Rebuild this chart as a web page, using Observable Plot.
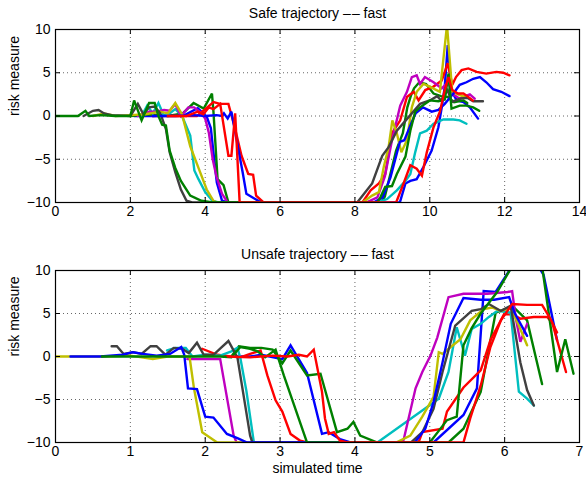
<!DOCTYPE html>
<html><head><meta charset="utf-8">
<script src="https://cdn.jsdelivr.net/npm/d3@7"></script>
<script src="https://cdn.jsdelivr.net/npm/@observablehq/plot@0.6"></script>
<style>body{margin:0;background:#fff;} #chart svg{display:block;}</style>
</head><body><div id="chart"></div>
<script>
// ---------- tick labels / axes ----------
const safeTitle = "Safe trajectory –\u200A– fast";
const unsafeTitle = "Unsafe trajectory –\u200A– fast";
const yLabel = "risk measure";
const xLabel = "simulated time";
const safeXTicks = [0, 2, 4, 6, 8, 10, 12, 14];
const unsafeXTicks = [0, 1, 2, 3, 4, 5, 6, 7];
const yTicks = [-10, -5, 0, 5, 10];

// ---------- series colours (MATLAB colour order) ----------
const colBlue = "#0000ff", colGreen = "#008000", colRed = "#ff0000", colCyan = "#00bfbf",
      colMagenta = "#bf00bf", colYellow = "#bfbf00", colGray = "#404040";

// ---------- Safe trajectory series: [time, risk] ----------
const safeBlue1 = [[2.1,0],[2.6,0],[3.0,0.1],[3.4,0],[3.8,0.9],[3.95,0.3],[4.05,-0.2],[4.15,-1.4],[4.22,-4.2],[4.31,-7.7],[4.45,-9.8],[4.6,-10],[9.2,-10],[9.35,-7.8],[9.48,-7.5],[9.65,-7.3],[9.83,-5.9],[10.05,-4.0],[10.23,-1.3],[10.32,1.0],[10.4,3.4],[10.48,8.2],[10.57,3.0],[10.72,1.8],[10.9,1.6],[11.07,1.0],[11.29,-0.3]];
const safeGreen1 = [[2.0,0],[2.5,0.2],[3.0,0],[3.4,0.3],[3.69,1.5],[3.96,0.85],[4.18,2.6],[4.22,0.5],[4.27,-3],[4.33,-7.3],[4.49,-8],[4.62,-10],[8.7,-10],[8.8,-9.3],[9.1,-4.0],[9.28,-2.0],[9.4,1.0],[9.5,2.4],[9.58,3.2],[9.72,3.9],[9.9,3.7],[10.1,2.6],[10.3,2.3],[10.48,2.2],[10.65,1.6],[10.9,1.8],[11.0,1.5]];
const safeRed1 = [[2.6,0],[3.0,0],[3.5,0],[3.78,0],[4.0,0.8],[4.22,1.6],[4.4,1.4],[4.62,1.4],[4.8,-1.5],[4.97,-4.6],[5.15,-6.7],[5.28,-6.8],[5.36,-9.2],[5.56,-10],[8.2,-10],[8.42,-8.6],[8.64,-7.8],[8.81,-6.7],[8.99,-2.0],[9.21,-0.5],[9.39,2.2],[9.57,2.8],[9.7,1.8],[9.88,3.0],[10.1,3.4],[10.32,4.1],[10.48,6.1],[10.6,3.6],[10.7,4.5],[10.85,5.3],[11.03,5.5],[11.25,5.1],[11.51,4.9],[11.78,5.1],[11.96,5.0],[12.13,4.7]];
const safeCyan = [[2.3,0],[2.45,1.2],[2.6,0.3],[2.75,1.5],[2.9,0],[3.05,0.3],[3.2,0.8],[3.38,0],[3.6,-2.25],[3.71,-6.3],[3.82,-7.3],[4.0,-8.8],[4.19,-9.8],[4.35,-10],[8.6,-10],[8.86,-9.6],[9.12,-8.6],[9.35,-7.5],[9.48,-6.7],[9.61,-4.2],[9.74,-2.0],[9.92,-1.7],[10.1,-0.9],[10.36,-0.4],[10.63,-0.4],[10.8,-0.5],[10.98,-0.9]];
const safeMagenta = [[2.2,0],[2.5,0.5],[2.7,0.5],[2.9,0.7],[3.05,0.6],[3.2,1.4],[3.35,0],[3.55,1.0],[3.7,1.0],[3.85,0.5],[4.0,-0.3],[4.1,-2],[4.2,-5],[4.3,-7],[4.45,-9],[4.6,-10],[8.3,-10],[8.6,-9.4],[8.8,-7],[8.99,-2.8],[9.21,1.2],[9.39,2.8],[9.52,4.5],[9.65,4.7],[9.74,3.7],[9.87,4.5],[10.1,3.9],[10.32,3.2],[10.48,3.9],[10.63,2.5],[10.8,2.0],[10.95,2.3],[11.07,2.5],[11.2,2.0]];
const safeYellow = [[1.0,0],[1.3,0.3],[1.6,0],[2.0,0.1],[2.4,0.2],[2.8,0.5],[3.0,0.3],[3.2,1.5],[3.38,0.2],[3.6,-3.5],[3.82,-6],[4.04,-8.5],[4.22,-9.8],[4.31,-10],[8.2,-10],[8.46,-9.2],[8.64,-8.8],[8.77,-5.9],[8.9,-3.6],[9.0,-0.5],[9.12,-2.0],[9.24,-4.2],[9.39,-2.8],[9.52,1.0],[9.65,2.8],[9.83,3.7],[10.0,3.4],[10.27,2.8],[10.46,10.5],[10.6,2.8],[10.8,2.4],[10.95,2.2]];
const safeGray = [[0.75,0],[1.0,0.6],[1.15,0.7],[1.3,0.3],[1.5,0.1],[2.0,0],[2.2,1.4],[2.35,0.2],[2.5,1.0],[2.65,1.1],[2.8,0.3],[2.95,-1.5],[3.05,-4.2],[3.2,-6.5],[3.35,-8.5],[3.5,-9.8],[3.65,-10],[8.06,-10],[8.46,-7.8],[8.73,-4.6],[8.9,-3.6],[9.12,-1.7],[9.48,0.1],[9.74,1.4],[10.0,1.8],[10.2,2.3],[10.3,1.8],[10.48,3.0],[10.58,1.6],[10.8,2.0],[11.0,2.1],[11.16,1.7],[11.42,1.7]];
const safeBlue2 = [[2.6,0],[3.2,0],[3.7,0.1],[4.0,0],[4.3,0.1],[4.45,0],[4.5,0.3],[4.6,-0.3],[4.7,0.5],[4.85,-3],[5.0,-6.5],[5.1,-9],[5.3,-9.5],[5.5,-10],[8.5,-10],[8.74,-9.4],[8.95,-7.1],[9.2,-3.0],[9.32,-2.8],[9.5,-0.9],[9.62,0.3],[9.82,1.0],[10.05,0.5],[10.23,0.7],[10.4,1.4],[10.63,2.6],[10.8,3.6],[10.98,3.9],[11.16,4.3],[11.34,4.5],[11.51,3.9],[11.69,3.1],[11.91,2.8],[12.13,2.3]];
const safeGreen2 = [[0,0],[0.6,0],[0.8,0.6],[0.9,0],[1.2,0.1],[1.6,0],[2.0,0],[2.1,1.8],[2.3,-0.5],[2.5,1.5],[2.65,1.5],[2.75,0],[2.85,-1.0],[2.95,-1.1],[3.05,-4.0],[3.2,-6.0],[3.35,-7.5],[3.6,-9.2],[3.9,-9.8],[4.2,-10],[8.6,-10],[8.68,-9.4],[8.81,-8.2],[8.99,-8.1],[9.12,-6.7],[9.35,-4.7],[9.48,-1.7],[9.61,0.5],[9.74,1.0],[10.0,1.8],[10.23,1.7],[10.4,1.9],[10.5,4.9],[10.58,0.85],[10.8,1.2],[10.98,1.2],[11.16,1.0],[11.32,0.6]];
const safeRed2 = [[3.0,0],[3.5,0],[3.8,0.5],[3.95,0.2],[4.1,1.0],[4.22,0.8],[4.4,1.4],[4.62,-4.6],[4.7,-4.6],[4.8,0.3],[4.92,-10],[9.1,-10],[9.3,-7.8],[9.48,-5.7],[9.65,-6.1],[9.79,-6.9],[9.92,-4.2],[10.1,-1.3],[10.27,0.5],[10.4,3.0],[10.5,4.5],[10.6,3.0],[10.75,2.6],[10.9,2.6],[11.0,2.3],[11.15,1.8]];

// ---------- Unsafe trajectory series: [time, risk] ----------
const unsafeBlue1 = [[2.4,0],[2.6,0],[2.75,0.2],[3.03,-0.3],[3.14,1.3],[3.36,-1.9],[3.56,-9.0],[3.65,-8.8],[3.8,-9.6],[3.94,-10],[5.05,-10],[5.45,-6.8],[5.63,-3.7],[5.72,7.6],[5.88,7.5],[6.1,10.5],[6.45,10.5],[6.52,9.5],[6.7,1.9]];
const unsafeGreen1 = [[2.35,0],[2.45,1.2],[2.6,1.0],[2.75,1.0],[2.9,0.8],[3.03,-0.8],[3.14,0.7],[3.36,-2.2],[3.54,-2.0],[3.76,-8.8],[3.9,-8.4],[3.98,-7.6],[4.07,-9.2],[4.3,-10],[5.25,-10],[5.45,-8.4],[5.68,-4.1],[5.88,5.1],[6.01,5.5],[6.1,5.9],[6.3,4.2],[6.5,-3.2]];
const unsafeRed1 = [[1.96,0.9],[2.16,0.2],[2.34,0],[2.47,-0.1],[2.6,0.3],[2.74,0.7],[2.83,-2.2],[2.94,-5.1],[3.03,-6.4],[3.14,-9.0],[3.27,-9.8],[3.36,-10],[4.85,-10],[4.9,-8.8],[5.17,-8.4],[5.23,-6.4],[5.45,-3.6],[5.68,-1.6],[5.81,1.9],[5.99,4.9],[6.1,4.9],[6.21,4.4],[6.39,4.6],[6.57,4.6],[6.64,3.8],[6.82,-1.8]];
const unsafeCyan = [[1.49,0.7],[1.6,1.0],[1.74,1.0],[1.83,0],[2.0,0.2],[2.2,0.1],[2.35,0.6],[2.43,1.0],[2.47,-0.2],[2.55,-4],[2.65,-10],[4.3,-10],[5.12,-4.9],[5.25,-1.8],[5.36,3.4],[5.47,0.1],[5.56,3.2],[5.68,3.8],[5.79,4.6],[5.9,5.3],[6.08,5.1],[6.19,-4.1],[6.3,-4.9],[6.39,-5.7]];
const unsafeMagenta = [[1.76,-0.3],[2.2,-0.3],[2.38,-9.2],[2.42,-10],[4.62,-10],[4.65,-9.7],[4.81,-3.7],[4.9,-1.8],[5.01,0.1],[5.1,2.2],[5.25,6.9],[5.45,7.3],[5.77,7.3],[6.04,7.5],[6.1,7.6],[6.15,4.4],[6.21,1.7],[6.3,3.8]];
const unsafeYellow = [[0,0],[0.6,0],[1.0,0.1],[1.3,-0.3],[1.5,0],[1.79,0],[1.85,-3.7],[1.96,-8.8],[2.16,-10],[4.55,-10],[4.74,-9.2],[4.9,-7.0],[5.05,-4.7],[5.12,0.5],[5.17,0.3],[5.28,1.1],[5.41,2.0],[5.54,4.2],[5.72,5.5],[5.83,5.7],[5.95,5.3],[6.08,5.7],[6.19,3.6],[6.3,1.3]];
const unsafeGray = [[0.75,1.2],[0.82,1.2],[0.91,0.3],[1.04,0.5],[1.15,0.3],[1.27,1.2],[1.35,1.2],[1.47,0.2],[1.58,1.0],[1.69,0.9],[1.78,0.4],[1.89,1.6],[1.98,0.2],[2.11,0.2],[2.21,1.0],[2.31,1.8],[2.43,-0.1],[2.6,-9.2],[2.63,-10],[4.75,-10],[4.9,-8.8],[5.05,-6.1],[5.17,-1.8],[5.34,3.6],[5.56,5.3],[5.68,5.5],[5.79,6.1],[5.95,5.3],[6.08,5.9],[6.21,-0.7],[6.3,-3.9],[6.39,-5.7]];
const unsafeBlue2 = [[0.2,0],[0.6,0],[0.9,0.2],[1.03,0.5],[1.17,0.3],[1.35,0.1],[1.53,0.3],[1.68,1.1],[1.72,0.2],[1.77,-3.7],[1.89,-3.8],[2.0,-7.0],[2.11,-7.1],[2.29,-9.0],[2.43,-9.5],[2.56,-10],[4.8,-10],[4.94,-8.4],[5.05,-5.3],[5.17,-0.7],[5.28,3.8],[5.45,6.8],[5.68,6.6],[5.86,6.6],[6.06,6.9],[6.13,5.1],[6.3,2.4]];
const unsafeGreen2 = [[0.62,0],[1.0,0],[1.5,0],[2.0,0],[2.2,0],[2.35,-0.1],[2.47,1.1],[2.6,0.9],[2.7,0.6],[2.8,-0.1],[2.94,0.8],[3.05,-2.2],[3.36,-10],[5.0,-10],[5.23,-7.4],[5.36,-7.0],[5.45,1.3],[5.56,3.3],[5.68,5.0],[5.9,7.5],[6.1,10.5],[6.5,10.5],[6.7,-1.8],[6.81,2.0],[6.92,-2.0]];
const unsafeRed2 = [[2.3,0],[2.6,-0.1],[2.9,0.1],[3.1,0],[3.25,0.2],[3.36,0],[3.45,0.8],[3.56,-4.1],[3.6,-7.2],[3.65,-9.0],[3.72,-8.8],[3.8,-9.8],[3.9,-10],[5.45,-10],[5.54,-7.2],[5.68,-3.4],[5.81,1.1],[5.95,4.2],[6.1,6.1],[6.3,6.0],[6.5,6.0],[6.61,4.4],[6.7,2.8]];

const safeSeries = [
  [safeBlue1, colBlue], [safeGreen1, colGreen], [safeRed1, colRed], [safeCyan, colCyan],
  [safeMagenta, colMagenta], [safeYellow, colYellow], [safeGray, colGray],
  [safeBlue2, colBlue], [safeGreen2, colGreen], [safeRed2, colRed]
];
const unsafeSeries = [
  [unsafeBlue1, colBlue], [unsafeGreen1, colGreen], [unsafeRed1, colRed], [unsafeCyan, colCyan],
  [unsafeMagenta, colMagenta], [unsafeYellow, colYellow], [unsafeGray, colGray],
  [unsafeBlue2, colBlue], [unsafeGreen2, colGreen], [unsafeRed2, colRed]
];

const W = 586, ML = 55, MR = 7;
const FONT = "'Liberation Sans', Arial, Helvetica, sans-serif";

function panel({title, series, xDomain, xTicks, height, marginTop, marginBottom, xlabel}) {
  const frameH = height - marginTop - marginBottom;
  const frameW = W - ML - MR;
  const grid = {stroke: "#000", strokeOpacity: 0.6, strokeDasharray: "1,3", strokeWidth: 1};
  const marks = [
    Plot.gridX(xTicks, grid),
    Plot.gridY(yTicks, grid),
    ...series.map(([data, color]) => Plot.line(data, {
      x: d => d[0], y: d => d[1], stroke: color, strokeWidth: 2.4, clip: true, strokeLinejoin: "miter", strokeMiterlimit: 3
    })),
    Plot.tickX(xTicks, {x: d => d, insetTop: frameH - 5, stroke: "#000"}),
    Plot.tickX(xTicks, {x: d => d, insetBottom: frameH - 5, stroke: "#000"}),
    Plot.tickY(yTicks, {y: d => d, insetRight: frameW - 5, stroke: "#000"}),
    Plot.tickY(yTicks, {y: d => d, insetLeft: frameW - 5, stroke: "#000"}),
    Plot.frame({stroke: "#000", strokeWidth: 1.2}),
    Plot.axisX(xTicks, {tickSize: 0, tickPadding: 4, label: null}),
    Plot.axisY(yTicks, {tickSize: 0, tickPadding: 5, label: null}),
    Plot.text([title], {frameAnchor: "top", dy: -15.5, lineAnchor: "middle", text: d => d}),
    Plot.text([yLabel], {frameAnchor: "left", rotate: -90, dx: -41, lineAnchor: "middle", text: d => d})
  ];
  if (xlabel) marks.push(Plot.text([xlabel], {frameAnchor: "bottom", dy: 26, lineAnchor: "middle", text: d => d}));
  return Plot.plot({
    width: W, height, marginLeft: ML, marginRight: MR, marginTop, marginBottom,
    style: {fontFamily: FONT, fontSize: "14px", color: "#000", background: "#fff"},
    x: {domain: xDomain},
    y: {domain: [-10, 10]},
    marks
  });
}

const chart = document.getElementById("chart");
chart.append(panel({title: safeTitle, series: safeSeries, xDomain: [0, 14], xTicks: safeXTicks,
  height: 240, marginTop: 29, marginBottom: 38}));
chart.append(panel({title: unsafeTitle, series: unsafeSeries, xDomain: [0, 7], xTicks: unsafeXTicks,
  height: 239, marginTop: 30, marginBottom: 37, xlabel: xLabel}));
</script></body></html>
